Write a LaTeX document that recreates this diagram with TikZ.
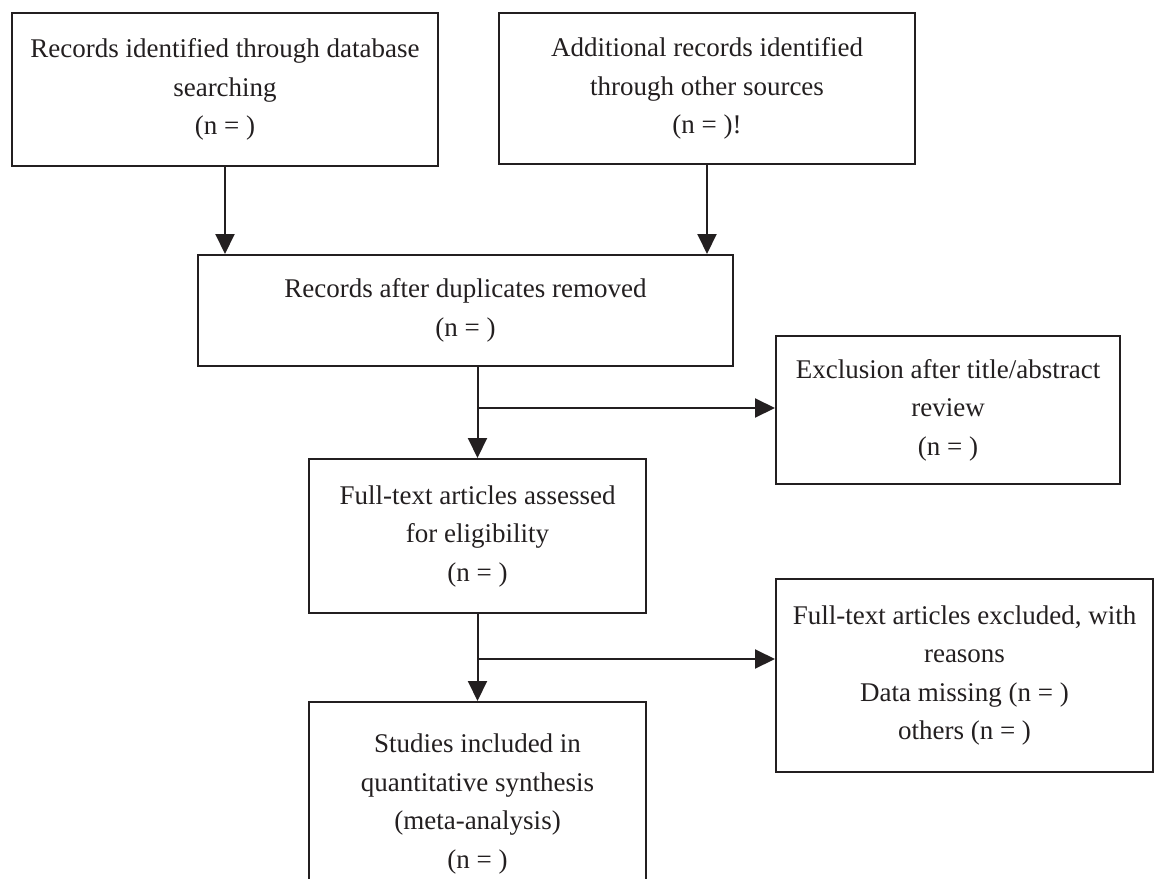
\documentclass[tikz,border=0pt]{standalone}
\usepackage{fontspec}
\setmainfont{Liberation Serif}
\usetikzlibrary{arrows.meta}
\definecolor{ink}{HTML}{231F20}
\begin{document}
\begin{tikzpicture}[x=1pt,y=-1pt,
  box/.style={draw=ink, line width=2pt, rectangle, inner sep=0pt, align=center,
    font=\fontsize{27}{38.5}\selectfont, text=ink},
  conn/.style={draw=ink, line width=2pt, -{Triangle[length=20pt,width=19pt]}},
  plain/.style={draw=ink, line width=2pt}]
\useasboundingbox (0,0) rectangle (1156,878);
\clip (0,0) rectangle (1156,878);
\node[box, minimum width=426pt, minimum height=153pt] (b1) at (225,89.5)
  {Records identified through database\\searching\\(n = )};
\node[box, minimum width=416pt, minimum height=151pt] (b2) at (707,88.5)
  {Additional records identified\\through other sources\\(n = )!};
\node[box, minimum width=535pt, minimum height=111pt] (b3) at (465.5,310.5)
  {Records after duplicates removed\\(n = )};
\node[box, minimum width=344pt, minimum height=148pt] (ex) at (948,410)
  {Exclusion after title/abstract\\review\\(n = )};
\node[box, minimum width=337pt, minimum height=154pt] (b5) at (477.5,536)
  {Full-text articles assessed\\for eligibility\\(n = )};
\node[box, minimum width=377pt, minimum height=193pt] (b6) at (964.5,675.5)
  {Full-text articles excluded, with\\reasons\\Data missing (n = )\\others (n = )};
\node[box, minimum width=337pt, minimum height=204pt] (b7) at (477.5,804)
  {Studies included in\\quantitative synthesis\\(meta-analysis)\\(n = )};
\coordinate (j1) at (477.5,408);
\coordinate (j2) at (477.5,659);
\draw[conn] (b1.south) -- (b1.south |- b3.north);
\draw[conn] (b2.south) -- (b2.south |- b3.north);
\draw[conn] (b3.south -| b5.north) -- (b5.north);
\draw[conn] (j1) -- (ex.west |- j1);
\draw[conn] (b5.south) -- (b7.north);
\draw[conn] (j2) -- (b6.west |- j2);
\end{tikzpicture}
\end{document}
